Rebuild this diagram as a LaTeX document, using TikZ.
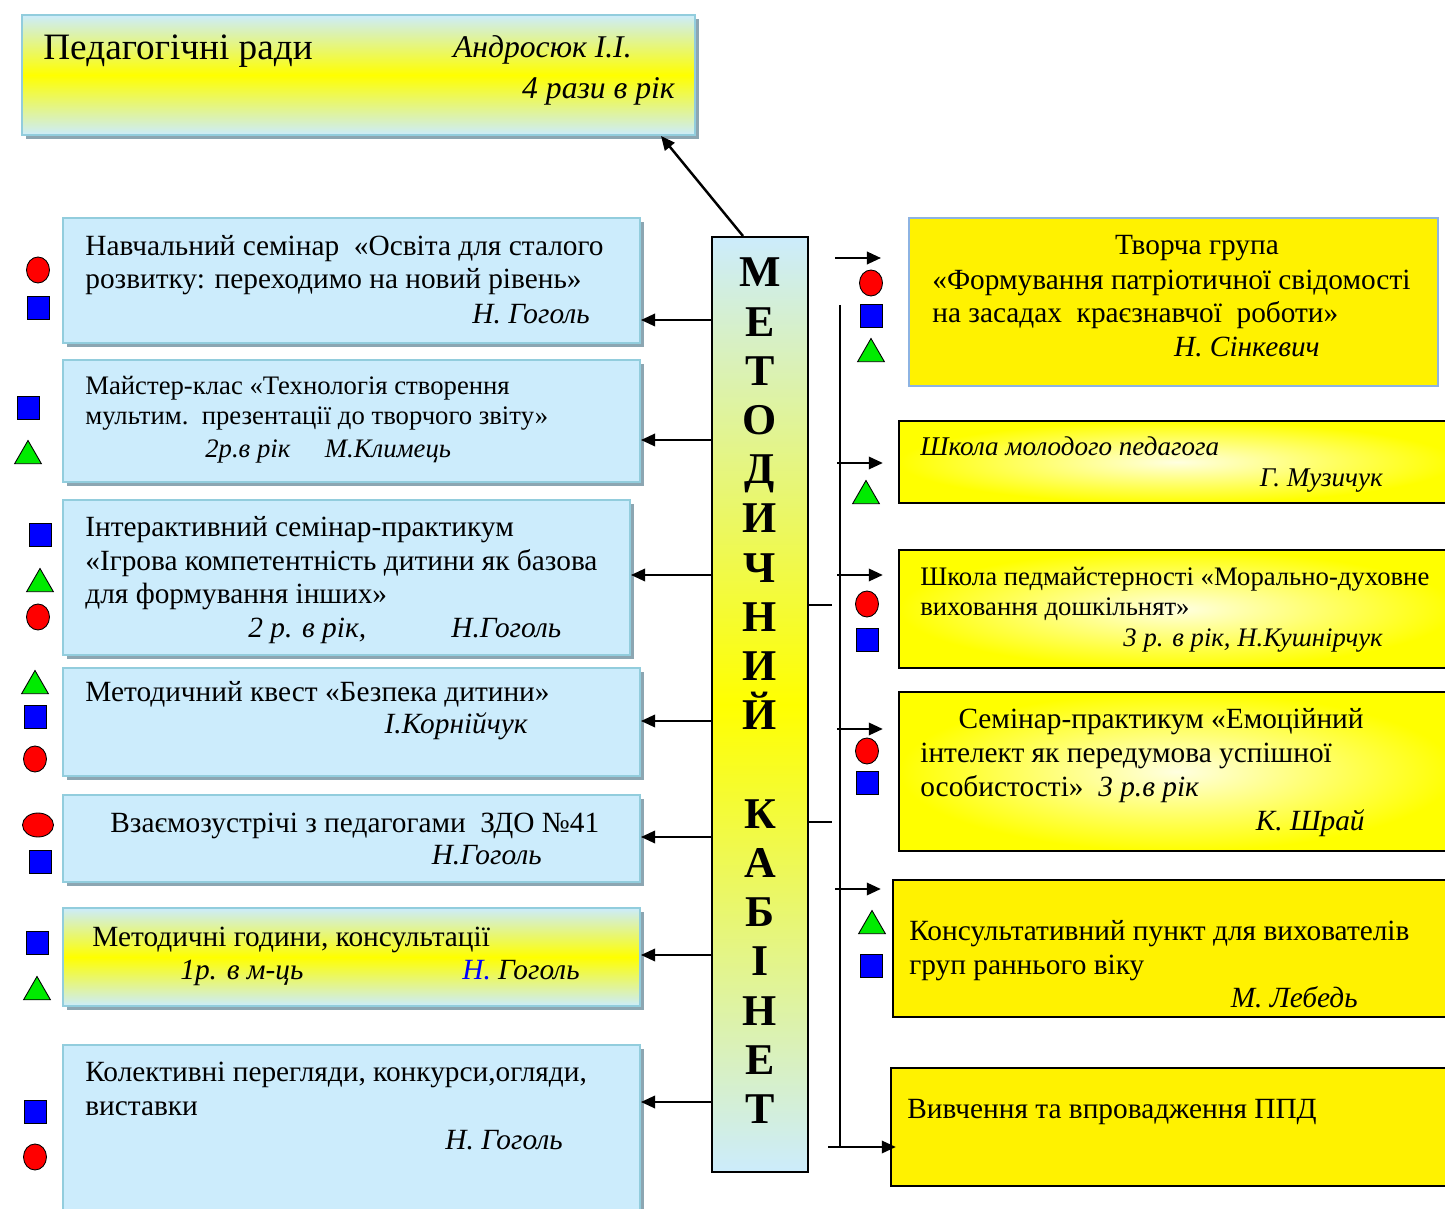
\documentclass[tikz,border=0pt]{standalone}
\usepackage{fontspec}
\setmainfont{Liberation Serif}
\usetikzlibrary{arrows.meta,fit,shadows,shapes.geometric}

\definecolor{boxblue}{RGB}{204,236,252}
\definecolor{boxedge}{RGB}{146,205,221}
\definecolor{boxshadow}{RGB}{140,166,178}
\definecolor{grpedge}{RGB}{141,179,226}
\definecolor{signgreen}{RGB}{0,235,0}
\newcommand{\txtbig}{\fontsize{16.7}{19.3}\selectfont}
\newcommand{\txtsmall}{\fontsize{15.2}{17.6}\selectfont}
\newcommand{\txttitle}{\fontsize{21.2}{25}\selectfont}
\newcommand{\txtmk}{\fontsize{25}{28}\selectfont\bfseries}

\begin{document}
\begin{tikzpicture}[x=0.02cm, y=-0.02cm,
  lbox/.style={draw=boxedge, line width=1.1pt, fill=boxblue, inner sep=0pt,
    drop shadow={shadow xshift=2.3pt, shadow yshift=-2.3pt, fill=boxshadow, opacity=1}},
  gbox/.style={lbox, top color=boxblue, bottom color=boxblue, middle color=yellow},
  mkbox/.style={draw=black, line width=1.1pt, inner sep=0pt,
    top color=boxblue, bottom color=boxblue, middle color=yellow},
  rbox/.style={draw=black, line width=1.3pt, fill=yellow, inner sep=0pt},
  rshade/.style={rbox, inner color=yellow!12, outer color=yellow},
  tbox/.style={draw=grpedge, line width=1.1pt, fill=yellow, inner sep=0pt},
  arr/.style={-{Triangle[length=8pt,width=7pt]}, line width=1.4pt},
  txt/.style={inner sep=0pt, align=left, font=\txtbig},
  sig/.style={inner sep=0pt, font=\txtbig\itshape},
  mklet/.style={inner sep=0pt, font=\txtmk, anchor=base},
  redc/.style={ellipse, draw, line width=0.5pt, fill=red, inner sep=0pt,
    minimum width=0.46cm, minimum height=0.52cm},
  rede/.style={redc, minimum width=0.62cm, minimum height=0.48cm},
  bsq/.style={rectangle, draw, line width=0.5pt, fill=blue, inner sep=0pt,
    minimum width=0.44cm, minimum height=0.46cm},
  gtri/.style={regular polygon, regular polygon sides=3, draw, line width=0.5pt,
    fill=signgreen, inner sep=0pt, minimum size=0.62cm}]

  \useasboundingbox (0,0) rectangle (1445,1209);
  \clip (0,0) rectangle (1445,1209);

  % boxes
  \node[gbox, fit={(22,15) (695,135)}] (pr) {};
  \node[lbox, fit={(63,218) (640,343)}] (l1) {};
  \node[lbox, fit={(63,360) (640,482)}] (l2) {};
  \node[lbox, fit={(63,500) (630,655)}] (l3) {};
  \node[lbox, fit={(63,668) (640,776)}] (l4) {};
  \node[lbox, fit={(63,795) (640,882)}] (l5) {};
  \node[gbox, fit={(63,908) (640,1006)}] (l6) {};
  \node[lbox, fit={(63,1045) (640,1240)}] (l7) {};
  \node[mkbox, fit={(712,237) (808,1172)}] (mk) {};
  \node[tbox, fit={(909,218) (1438,386)}] (r1) {};
  \node[rshade, fit={(899,421) (1455,503)}] (r2) {};
  \node[rshade, fit={(899,550) (1455,668)}] (r3) {};
  \node[rshade, fit={(899,692) (1455,851)}] (r4) {};
  \node[rbox, fit={(893,880) (1455,1017)}] (r5) {};
  \node[rbox, fit={(891,1068) (1455,1186)}] (r6) {};

  \foreach \ch [count=\i from 0] in {М,Е,Т,О,Д,И,Ч,Н,И,Й}
    \node[mklet] (m\i) at (760,{287+49.2*\i}) {\ch};
  \foreach \ch [count=\i from 11] in {К,А,Б,І,Н,Е,Т}
    \node[mklet] (k\i) at (760,{287+49.2*\i}) {\ch};

  % texts (multi-line nodes sit on the baseline of their last line)
  \node[inner sep=0pt, font=\txttitle, anchor=base west] (prt) at (43,60) {Педагогічні ради};
  \node[inner sep=0pt, font=\fontsize{18}{22}\selectfont\itshape, anchor=base east] (pra) at (632,58) {Андросюк І.І.};
  \node[inner sep=0pt, font=\fontsize{18}{22}\selectfont\itshape, anchor=base east] (prb) at (675,99) {4 рази в рік};

  \node[txt, anchor=base west] (l1a) at (85,289) {Навчальний семінар\ \ «Освіта для сталого\\розвитку: переходимо на новий рівень»};
  \node[sig, anchor=base east] (l1b) at (590,324) {Н. Гоголь};
  \node[txt, font=\txtsmall, anchor=base west] (l2a) at (85,425) {Майстер-клас «Технологія створення\\мультим.\ \ презентації до творчого звіту»};
  \node[sig, font=\txtsmall\itshape, anchor=base west] (l2b) at (205,458) {2р.в рік\hspace{1.3em}М.Климець};
  \node[txt, anchor=base west] (l3a) at (85,604) {Інтерактивний семінар-практикум\\«Ігрова компетентність дитини як базова\\для формування інших»};
  \node[sig, anchor=base west] (l3b) at (248,638) {2 р. в рік,};
  \node[sig, anchor=base west] (l3c) at (451,638) {Н.Гоголь};
  \node[txt, anchor=base west] (l4a) at (85,702) {Методичний квест «Безпека дитини»};
  \node[sig, anchor=base east] (l4b) at (528,734) {І.Корнійчук};
  \node[txt, anchor=base west] (l5a) at (110,832) {Взаємозустрічі з педагогами\ \ ЗДО №41};
  \node[sig, anchor=base east] (l5b) at (542,864) {Н.Гоголь};
  \node[txt, anchor=base west] (l6a) at (92,946) {Методичні години, консультації};
  \node[sig, anchor=base west] (l6b) at (180,979) {1р. в м-ць};
  \node[sig, anchor=base west] (l6c) at (462,979) {{\color{blue}Н.} Гоголь};
  \node[txt, anchor=base west] (l7a) at (85,1115) {Колективні перегляди, конкурси,огляди,\\виставки};
  \node[sig, anchor=base east] (l7b) at (563,1149) {Н. Гоголь};

  \node[txt, anchor=base] (r1a) at (1197,255) {Творча група};
  \node[txt, anchor=base west] (r1b) at (932,323) {«Формування патріотичної свідомості\\на засадах\ \ краєзнавчої\ \ роботи»};
  \node[sig, anchor=base east] (r1c) at (1320,357) {Н. Сінкевич};
  \node[sig, font=\fontsize{15.4}{18}\selectfont\itshape, anchor=base west] (r2a) at (920,456) {Школа молодого педагога};
  \node[sig, font=\fontsize{15.4}{18}\selectfont\itshape, anchor=base east] (r2b) at (1383,487) {Г. Музичук};
  \node[txt, font=\txtsmall, anchor=base west] (r3a) at (920,616) {Школа педмайстерності «Морально-духовне\\виховання дошкільнят»};
  \node[sig, font=\txtsmall\itshape, anchor=base east] (r3b) at (1383,647) {3 р. в рік, Н.Кушнірчук};
  \node[txt, anchor=base west] (r4a) at (920,796) {\hspace*{1.3em}Семінар-практикум «Емоційний\\інтелект як передумова успішної\\особистості»\ \ \textit{3 р.в рік}};
  \node[sig, anchor=base east] (r4b) at (1365,830) {К. Шрай};
  \node[txt, anchor=base west] (r5a) at (909,974) {Консультативний пункт для вихователів\\груп раннього віку};
  \node[sig, anchor=base east] (r5b) at (1358,1007) {М. Лебедь};
  \node[txt, anchor=base west] (r6a) at (907,1118) {Вивчення та впровадження ППД};

  % connectors
  \draw[arr] ([xshift=-0.34cm]mk.north) -- ([xshift=-0.7cm]pr.south east);
  \foreach \b/\yy in {l1/320, l2/440, l3/575, l4/721, l5/837, l6/955, l7/1102} {
    \coordinate (h\b) at (0,\yy);
    \draw[arr] (mk.west |- h\b) -- (\b.east |- h\b);
  }
  \coordinate (railtop) at (840,305);
  \coordinate (railbot) at (840,1147);
  \draw[line width=1.4pt] (railtop) -- (railbot);
  \foreach \yy [count=\i] in {605, 822} {
    \coordinate (st\i) at (0,\yy);
    \draw[line width=1.4pt] (mk.east |- st\i) -- +(23,0);
  }
  \foreach \b/\xx/\yy/\gap in {r1/835/258/0.54, r2/837/463/0.3, r3/837/575/0.3,
      r4/837/729/0.3, r5/835/889/0.22, r6/828/1147/-0.12} {
    \coordinate (h\b) at (\xx,\yy);
    \draw[arr, shorten >=\gap cm] (h\b) -- (\b.west |- h\b);
  }

  % signs
  \foreach \kind/\xx/\yy [count=\i] in {redc/38/270, bsq/38/308, bsq/28/408, gtri/28/456,
      bsq/40/535, gtri/40/584, redc/38/617, gtri/35/686, bsq/35/717, redc/35/759,
      rede/38/825, bsq/40/862, bsq/37/943, gtri/37/992, bsq/35/1112, redc/35/1157,
      redc/871/283, bsq/871/316, gtri/871/354, gtri/866/496, redc/867/604, bsq/867/640,
      redc/867/751, bsq/867/783, gtri/872/926, bsq/871/966}
    \node[\kind] (s\i) at (\xx,\yy) {};

\end{tikzpicture}
\end{document}
